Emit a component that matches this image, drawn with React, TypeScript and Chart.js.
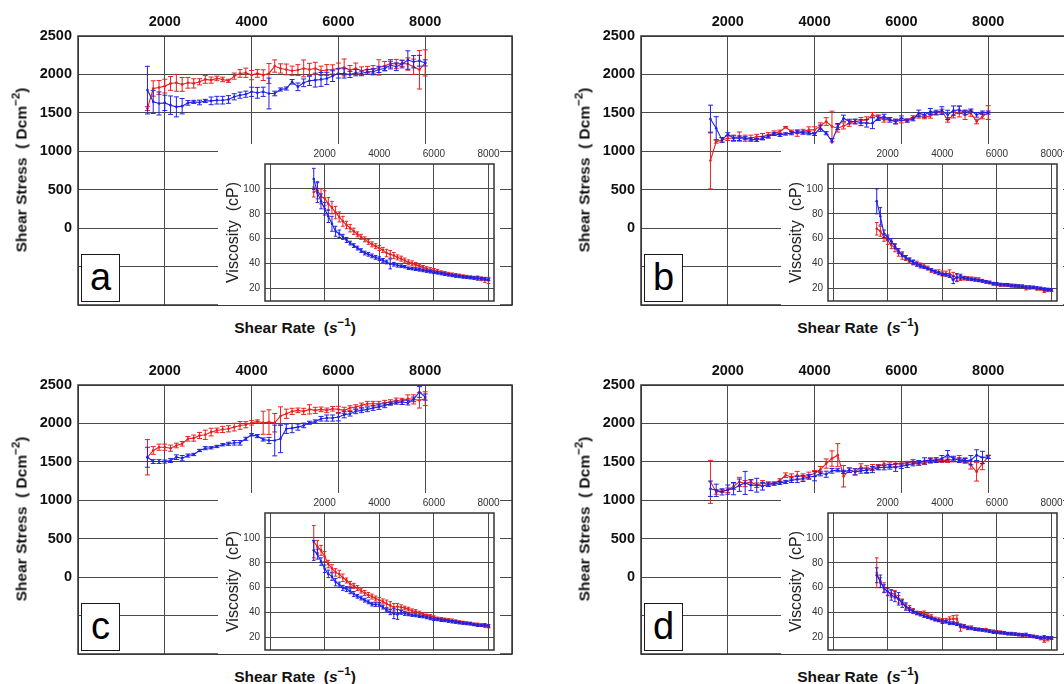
import React, { useEffect, useRef } from 'react';
import { Chart, registerables } from 'chart.js';

Chart.register(...registerables);

const FONT = '"Liberation Sans", Arial, Helvetica, sans-serif';
Chart.defaults.font.family = FONT;

const BLUE = '#2020e6';
const RED = '#ea1e1e';
const GRID = '#4a4a4a';
const FRAME = '#333333';

// shared shear-rate axis values (s^-1)
const rates = [1600, 1733, 1867, 2000, 2133, 2267, 2400, 2533, 2667, 2800, 2933, 3067, 3200, 3333, 3467, 3600, 3733, 3867, 4000, 4133, 4267, 4400, 4533, 4667, 4800, 4933, 5067, 5200, 5333, 5467, 5600, 5733, 5867, 6000, 6133, 6267, 6400, 6533, 6667, 6800, 6933, 7067, 7200, 7333, 7467, 7600, 7733, 7867, 8000];

// tick values
const mainXTicks = [0, 2000, 4000, 6000, 8000, 10000];
const mainYTicks = [-1000, -500, 0, 500, 1000, 1500, 2000, 2500];
const insetXTicks = [0, 2000, 4000, 6000, 8000];
const insetYTicks = [20, 40, 60, 80, 100];

// ---- panel a ----
const stressA_blue = [1796, 1643, 1622, 1630, 1600, 1578, 1587, 1630, 1643, 1635, 1656, 1656, 1665, 1665, 1674, 1709, 1730, 1743, 1774, 1761, 1774, 1752, 1752, 1804, 1817, 1904, 1839, 1891, 1917, 1926, 1935, 1948, 1978, 2013, 2013, 2000, 2022, 2013, 2035, 2035, 2065, 2078, 2122, 2100, 2135, 2187, 2165, 2178, 2150];
const stressA_blueErr = [310, 150, 150, 100, 120, 130, 100, 30, 20, 30, 20, 50, 50, 50, 50, 40, 40, 40, 60, 70, 60, 200, 30, 20, 20, 30, 50, 50, 60, 90, 90, 80, 70, 60, 60, 40, 40, 30, 30, 40, 40, 30, 50, 50, 50, 120, 80, 70, 40];
const stressA_red = [1556, 1817, 1830, 1848, 1883, 1891, 1870, 1891, 1883, 1904, 1935, 1926, 1948, 1935, 1917, 1978, 2013, 2022, 1991, 2013, 1991, 2013, 2109, 2078, 2065, 2048, 2057, 2078, 2065, 2078, 2048, 2057, 2065, 2078, 2091, 2057, 2078, 2048, 2065, 2065, 2091, 2109, 2144, 2135, 2144, 2135, 2100, 2060, 2150];
const stressA_redErr = [25, 100, 90, 90, 90, 110, 90, 70, 60, 40, 50, 40, 30, 30, 20, 40, 50, 60, 60, 50, 70, 130, 80, 60, 70, 60, 70, 110, 80, 80, 60, 70, 60, 70, 110, 60, 70, 50, 40, 50, 100, 60, 50, 60, 40, 80, 100, 250, 170];
const viscA_blue = [108, 97, 90, 84, 78, 72, 66, 64, 61.5, 59, 56.5, 54.5, 52.5, 50.5, 48.5, 47.5, 46.2, 45, 44, 42.6, 41.3, 39.8, 39.5, 38.7, 38, 37.5, 36.3, 36, 35.5, 35, 34.5, 34, 33.5, 33, 32.6, 32, 31.5, 31, 30.5, 30, 29.7, 29.3, 29, 28.7, 28.4, 28.4, 28, 27.7, 27.3];
const viscA_blueErr = [8.5, 8, 6, 5, 5, 6, 4, 3, 2, 2, 1.5, 1.5, 1.5, 1.5, 1.5, 1.5, 1.5, 1.5, 1.5, 1.5, 1.5, 4, 1.5, 1.5, 1, 1, 1, 1, 1, 1, 1, 1, 1, 1, 1, 1, 1, 1, 1, 1, 1, 1, 1, 1, 1, 1.5, 1, 1, 1];
const viscA_red = [97.5, 99, 94, 92.5, 88, 85, 81, 77.5, 74, 71, 68.5, 66, 63.5, 61.5, 59.5, 57.5, 55.5, 54, 52.5, 51, 48.5, 47.5, 46.5, 45, 44, 42.5, 41, 40.2, 39, 38, 37, 36, 35.3, 34.6, 33.9, 33.2, 32.6, 32, 31.5, 31, 30.6, 30, 29.6, 29.2, 28.8, 28.3, 27.8, 27, 26.5];
const viscA_redErr = [4, 7, 6, 6, 5, 5, 5, 4, 4, 3, 3, 2.5, 2, 2, 2, 2, 2, 2, 2, 2, 3, 3, 2.5, 2, 2, 2, 2, 2, 2, 1.5, 1.5, 1.5, 1.5, 1.5, 1.5, 1, 1, 1, 1, 1, 1, 1, 1, 1, 1, 1.5, 1.5, 2, 2.5];

// ---- panel b ----
const stressB_blue = [1420, 1300, 1148, 1222, 1170, 1170, 1170, 1156, 1148, 1170, 1191, 1226, 1213, 1226, 1235, 1256, 1243, 1235, 1226, 1300, 1235, 1126, 1322, 1430, 1387, 1387, 1374, 1365, 1365, 1430, 1452, 1409, 1387, 1430, 1400, 1417, 1496, 1474, 1517, 1504, 1530, 1474, 1530, 1539, 1504, 1530, 1474, 1504, 1504];
const stressB_blueErr = [180, 150, 30, 20, 30, 30, 20, 20, 20, 20, 20, 20, 20, 15, 20, 20, 20, 20, 20, 40, 20, 40, 40, 40, 30, 30, 40, 50, 70, 30, 30, 30, 30, 30, 20, 20, 40, 30, 40, 30, 50, 60, 60, 50, 30, 20, 30, 20, 20];
const stressB_red = [880, 1126, 1148, 1170, 1170, 1191, 1170, 1170, 1191, 1191, 1213, 1235, 1256, 1313, 1256, 1235, 1256, 1278, 1278, 1330, 1387, 1322, 1300, 1330, 1365, 1387, 1400, 1409, 1474, 1443, 1409, 1417, 1387, 1400, 1400, 1443, 1452, 1443, 1461, 1496, 1517, 1409, 1474, 1517, 1474, 1496, 1387, 1452, 1504];
const stressB_redErr = [370, 20, 30, 30, 40, 60, 40, 40, 30, 40, 30, 30, 20, 10, 20, 40, 30, 40, 40, 40, 50, 200, 50, 40, 40, 30, 40, 40, 30, 30, 30, 20, 30, 30, 20, 20, 20, 20, 30, 20, 30, 30, 40, 70, 60, 40, 30, 30, 90];
const viscB_blue = [90, 78, 64, 61, 58, 54, 50, 47, 45, 43, 41, 39.5, 38, 37, 36, 35, 33.5, 32.5, 31.5, 31, 30, 27, 29, 29.5, 28.5, 28, 27.5, 27, 26.5, 26, 25.5, 25, 24, 23.8, 23.3, 23, 23, 22.6, 22.4, 22, 21.8, 21.3, 21.2, 21, 20.5, 20.2, 19.6, 19.3, 19];
const viscB_blueErr = [10, 7, 3, 2, 2, 2, 2, 1.5, 1.5, 1.5, 1.5, 1.5, 1.5, 1, 1, 1, 1, 1, 1, 1, 1, 3, 3, 2, 1, 1, 1, 1, 1, 1, 1, 1, 1, 1, 1, 1, 1, 1, 1, 1, 1, 1, 1, 1, 1, 1, 1, 1, 1];
const viscB_red = [68, 66, 61, 58.5, 55, 52.5, 49, 46.5, 44.5, 42.5, 41, 40, 39, 38.5, 36.5, 34.5, 33.5, 33, 32, 32, 32, 30, 28.5, 28.5, 28.3, 28, 27.8, 27.5, 27.2, 26.4, 25.2, 24.7, 23.7, 23.3, 22.8, 23, 22.7, 22.1, 21.9, 22, 21.9, 19.9, 20.5, 20.7, 19.7, 19.7, 17.9, 18.5, 18.8];
const viscB_redErr = [5, 4, 3, 3, 3, 3, 3, 3, 2, 2, 2, 2, 1.5, 1.5, 1.5, 1.5, 1.5, 2, 2, 2, 3, 3, 3, 2, 1.5, 1.5, 1.5, 1.5, 1.5, 1, 1, 1, 1, 1, 1, 1, 1, 1, 1, 1, 1, 1, 1, 1, 1, 1, 1, 1, 1.2];

// ---- panel c ----
const stressC_blue = [1560, 1504, 1504, 1504, 1517, 1561, 1548, 1582, 1596, 1648, 1678, 1683, 1700, 1722, 1735, 1748, 1748, 1800, 1852, 1835, 1791, 1778, 1778, 1800, 1930, 1939, 1952, 1974, 2009, 2026, 2061, 2070, 2070, 2083, 2113, 2126, 2157, 2170, 2183, 2200, 2213, 2235, 2257, 2270, 2278, 2270, 2313, 2409, 2343];
const stressC_blueErr = [130, 25, 25, 20, 25, 30, 35, 20, 15, 15, 20, 15, 15, 15, 20, 30, 30, 20, 15, 20, 20, 40, 200, 180, 60, 60, 40, 30, 20, 20, 30, 40, 40, 50, 40, 30, 30, 30, 30, 30, 30, 30, 20, 20, 30, 30, 30, 70, 40];
const stressC_red = [1560, 1648, 1691, 1691, 1678, 1713, 1735, 1800, 1809, 1843, 1852, 1887, 1909, 1922, 1930, 1952, 1974, 1983, 2009, 2026, 2009, 2017, 2009, 2096, 2126, 2157, 2170, 2157, 2183, 2170, 2183, 2170, 2191, 2183, 2170, 2200, 2213, 2235, 2257, 2257, 2257, 2270, 2278, 2300, 2287, 2322, 2313, 2300, 2322];
const stressC_redErr = [230, 50, 40, 40, 40, 30, 30, 30, 40, 40, 60, 50, 30, 40, 40, 50, 50, 40, 30, 20, 150, 160, 120, 120, 60, 40, 30, 40, 60, 40, 30, 30, 30, 40, 40, 30, 30, 30, 30, 30, 30, 30, 30, 30, 40, 50, 60, 100, 90];
const viscC_blue = [90, 87, 81, 75.2, 71.1, 68.9, 64.5, 62.5, 59.9, 58.9, 57.2, 54.9, 53.1, 51.7, 50, 48.6, 46.8, 46.5, 46.3, 44.4, 42, 40.4, 39.2, 38.6, 40.2, 39.3, 38.5, 38, 37.7, 37.1, 36.8, 36.1, 35.3, 34.7, 34.5, 33.9, 33.7, 33.2, 32.7, 32.4, 31.9, 31.6, 31.3, 31, 30.5, 29.9, 29.9, 30.2, 29.3];
const viscC_blueErr = [8, 4, 3, 3, 3, 3, 3, 2, 2, 2, 2, 2, 1.5, 1.5, 1.5, 1.5, 1.5, 1.5, 1.5, 1.5, 1.5, 2, 4, 4, 1.5, 1.5, 1, 1, 1, 1, 1, 1, 1, 1, 1, 1, 1, 1, 1, 1, 1, 1, 1, 1, 1, 1, 1, 1, 1];
const viscC_red = [97, 93, 90, 85, 79, 75.5, 72.3, 71, 68, 65.8, 63.1, 61.5, 59.7, 57.7, 55.7, 54.2, 52.9, 51.3, 50.2, 49, 47.1, 45.8, 44.3, 44.9, 44.3, 43.7, 42.8, 41.5, 40.9, 39.7, 39, 37.8, 37.4, 36.4, 35.4, 35.1, 34.6, 34.2, 33.9, 33.2, 32.5, 32.1, 31.6, 31.4, 30.6, 30.6, 29.9, 29.2, 29];
const viscC_redErr = [13, 5, 4, 4, 3, 3, 3, 3, 3, 2, 2, 2, 2, 2, 2, 2, 2, 2, 2, 2, 3, 3, 3, 2.5, 2, 1.5, 1.5, 1.5, 1.5, 1.5, 1, 1, 1, 1, 1, 1, 1, 1, 1, 1, 1, 1, 1, 1, 1, 1, 1, 1.2, 1.2];

// ---- panel d ----
const stressD_blue = [1150, 1130, 1109, 1139, 1152, 1196, 1226, 1196, 1196, 1183, 1209, 1217, 1226, 1239, 1261, 1270, 1283, 1304, 1313, 1348, 1339, 1383, 1391, 1370, 1391, 1370, 1383, 1391, 1400, 1426, 1426, 1435, 1426, 1443, 1457, 1478, 1487, 1513, 1522, 1522, 1543, 1587, 1543, 1522, 1513, 1522, 1587, 1557, 1565];
const stressD_blueErr = [100, 80, 40, 60, 80, 80, 150, 70, 90, 50, 30, 20, 20, 20, 30, 40, 40, 30, 60, 30, 40, 30, 20, 20, 30, 40, 30, 30, 40, 30, 30, 30, 50, 30, 30, 30, 30, 40, 30, 30, 40, 60, 30, 30, 30, 60, 70, 80, 20];
const stressD_red = [1240, 1109, 1122, 1130, 1183, 1239, 1217, 1239, 1196, 1226, 1209, 1217, 1261, 1326, 1304, 1326, 1304, 1326, 1348, 1400, 1478, 1543, 1587, 1313, 1391, 1370, 1435, 1400, 1426, 1435, 1478, 1457, 1470, 1478, 1487, 1500, 1478, 1487, 1513, 1522, 1513, 1522, 1530, 1543, 1522, 1457, 1370, 1478, 1565];
const stressD_redErr = [280, 30, 20, 30, 40, 60, 40, 30, 30, 30, 20, 20, 20, 30, 40, 50, 40, 40, 40, 40, 60, 100, 150, 140, 30, 40, 40, 50, 40, 30, 30, 30, 30, 20, 20, 30, 20, 20, 30, 30, 20, 30, 30, 40, 30, 50, 120, 80, 20];
const viscD_blue = [70, 65.2, 59.4, 57, 54, 52.8, 51.1, 47.2, 44.9, 42.2, 41.2, 39.7, 38.3, 37.2, 36.4, 35.3, 34.4, 33.7, 32.8, 32.6, 31.4, 31.4, 30.7, 29.4, 29, 27.8, 27.3, 26.7, 26.3, 26.1, 25.5, 25, 24.3, 24.1, 23.8, 23.6, 23.2, 23.2, 22.8, 22.4, 22.3, 22.5, 21.4, 20.8, 20.3, 20, 20.5, 19.8, 19.6];
const viscD_blueErr = [6, 5, 3, 3, 4, 4, 5, 3, 3, 2, 1.5, 1, 1, 1, 1, 1, 1, 1, 1.5, 1, 1, 1, 1, 1, 1, 1, 1, 1, 1, 1, 1, 1, 1, 1, 1, 1, 1, 1, 1, 1, 1, 1, 1, 1, 1, 1, 1, 1, 1];
const viscD_red = [72, 64, 60, 56.5, 55.5, 54.7, 50.7, 48.9, 44.9, 43.8, 41.2, 39.7, 39.4, 39.8, 37.6, 36.8, 34.9, 34.3, 33.7, 33.9, 34.6, 35.1, 35, 28.1, 29, 27.8, 28.3, 26.9, 26.7, 26.2, 26.4, 25.4, 25.1, 24.6, 24.3, 23.9, 23.1, 22.8, 22.7, 22.4, 21.8, 21.5, 21.3, 21, 20.4, 19.2, 17.7, 18.8, 19.6];
const viscD_redErr = [12, 4, 4, 3, 3, 3, 3, 2, 2, 2, 2, 1.5, 1.5, 1.5, 1.5, 1.5, 1.5, 1.5, 1.5, 1.5, 2, 2.5, 3, 3, 1.5, 1.5, 1, 1, 1, 1, 1, 1, 1, 1, 1, 1, 1, 1, 1, 1, 1, 1, 1, 1, 1, 1, 1.5, 1.5, 1];

type PanelSpec = {
  letter: string;
  ox: number;
  oy: number;
  stressBlue: number[]; stressBlueErr: number[];
  stressRed: number[]; stressRedErr: number[];
  viscBlue: number[]; viscBlueErr: number[];
  viscRed: number[]; viscRedErr: number[];
};

const panels: PanelSpec[] = [
  { letter: 'a', ox: 0, oy: 0, stressBlue: stressA_blue, stressBlueErr: stressA_blueErr, stressRed: stressA_red, stressRedErr: stressA_redErr, viscBlue: viscA_blue, viscBlueErr: viscA_blueErr, viscRed: viscA_red, viscRedErr: viscA_redErr },
  { letter: 'b', ox: 563, oy: 0, stressBlue: stressB_blue, stressBlueErr: stressB_blueErr, stressRed: stressB_red, stressRedErr: stressB_redErr, viscBlue: viscB_blue, viscBlueErr: viscB_blueErr, viscRed: viscB_red, viscRedErr: viscB_redErr },
  { letter: 'c', ox: 0, oy: 349, stressBlue: stressC_blue, stressBlueErr: stressC_blueErr, stressRed: stressC_red, stressRedErr: stressC_redErr, viscBlue: viscC_blue, viscBlueErr: viscC_blueErr, viscRed: viscC_red, viscRedErr: viscC_redErr },
  { letter: 'd', ox: 563, oy: 349, stressBlue: stressD_blue, stressBlueErr: stressD_blueErr, stressRed: stressD_red, stressRedErr: stressD_redErr, viscBlue: viscD_blue, viscBlueErr: viscD_blueErr, viscRed: viscD_red, viscRedErr: viscD_redErr },
];

const errorBarPlugin = {
  id: 'errorBars',
  afterDatasetDraw(chart: any, args: any) {
    const ds: any = chart.data.datasets[args.index];
    const errs: number[] | undefined = ds.errors;
    if (!errs) return;
    const meta = args.meta;
    const xs = chart.scales[meta.xAxisID];
    const ys = chart.scales[meta.yAxisID];
    const a = chart.chartArea;
    const ctx = chart.ctx;
    const cap = ds.capHalf ?? 2;
    ctx.save();
    ctx.beginPath();
    ctx.rect(a.left, a.top, a.right - a.left, a.bottom - a.top);
    ctx.clip();
    ctx.strokeStyle = ds.borderColor;
    ctx.lineWidth = 1;
    ctx.beginPath();
    ds.data.forEach((p: any, i: number) => {
      const x = xs.getPixelForValue(p.x);
      const y1 = ys.getPixelForValue(p.y + errs[i]);
      const y2 = ys.getPixelForValue(p.y - errs[i]);
      ctx.moveTo(x, y1); ctx.lineTo(x, y2);
      ctx.moveTo(x - cap, y1); ctx.lineTo(x + cap, y1);
      ctx.moveTo(x - cap, y2); ctx.lineTo(x + cap, y2);
    });
    ctx.stroke();
    ctx.restore();
  },
};

const framePlugin = {
  id: 'frame',
  afterDraw(chart: any) {
    const a = chart.chartArea;
    const ctx = chart.ctx;
    ctx.save();
    ctx.strokeStyle = FRAME;
    ctx.lineWidth = 1.5;
    ctx.strokeRect(a.left, a.top, a.right - a.left, a.bottom - a.top);
    ctx.restore();
  },
};

const fix = (dim: 'width' | 'height', size: number) => (s: any) => {
  s[dim] = size;
  s.paddingTop = 0; s.paddingBottom = 0; s.paddingLeft = 0; s.paddingRight = 0;
};
const setTicks = (vals: number[]) => (s: any) => { s.ticks = vals.map((v) => ({ value: v })); };

const series = (values: number[], errors: number[], color: string, cap: number, label: string) => ({
  label,
  data: rates.map((x, i) => ({ x, y: values[i] })),
  errors,
  capHalf: cap,
  borderColor: color,
  backgroundColor: color,
  borderWidth: 1.1,
  pointRadius: 1.3,
  pointBorderWidth: 0,
  tension: 0,
});

function mainConfig(p: PanelSpec): any {
  return {
    type: 'line',
    data: {
      datasets: [
        series(p.stressBlue, p.stressBlueErr, BLUE, 2.5, 'blue'),
        series(p.stressRed, p.stressRedErr, RED, 2.5, 'red'),
      ],
    },
    options: {
      responsive: false,
      animation: false,
      events: [],
      layout: { padding: { left: 0, top: 0, right: 3, bottom: 3 } },
      plugins: { legend: { display: false }, tooltip: { enabled: false } },
      scales: {
        x: {
          type: 'linear', position: 'top', min: 0, max: 10000,
          afterBuildTicks: setTicks(mainXTicks),
          afterFit: fix('height', 36),
          grid: { color: GRID, lineWidth: 1, drawTicks: false },
          border: { display: false },
          ticks: {
            autoSkip: false, maxRotation: 0, padding: 5, color: '#111',
            font: { family: FONT, size: 14.5, weight: 'bold' },
            callback: (v: number) => (v > 0 && v < 10000 ? String(v) : ''),
          },
        },
        y: {
          type: 'linear', position: 'left', min: -1000, max: 2500,
          afterBuildTicks: setTicks(mainYTicks),
          afterFit: fix('width', 78),
          grid: { color: GRID, lineWidth: 1, drawTicks: false },
          border: { display: false },
          ticks: {
            autoSkip: false, padding: 6, color: '#111',
            font: { family: FONT, size: 14.5, weight: 'bold' },
            callback: (v: number) => (v >= 0 ? String(v) : ''),
          },
        },
      },
    },
    plugins: [errorBarPlugin, framePlugin],
  };
}

function insetConfig(p: PanelSpec): any {
  return {
    type: 'line',
    data: {
      datasets: [
        series(p.viscBlue, p.viscBlueErr, BLUE, 1.8, 'blue'),
        series(p.viscRed, p.viscRedErr, RED, 1.8, 'red'),
      ],
    },
    options: {
      responsive: false,
      animation: false,
      events: [],
      layout: { padding: { left: 0, top: 0, right: 6, bottom: 0 } },
      plugins: { legend: { display: false }, tooltip: { enabled: false } },
      scales: {
        x: {
          type: 'linear', position: 'top', min: -185, max: 8200,
          afterBuildTicks: setTicks(insetXTicks),
          afterFit: fix('height', 20),
          grid: { color: GRID, lineWidth: 1, drawTicks: false },
          border: { display: false },
          ticks: {
            autoSkip: false, maxRotation: 0, padding: 4, color: '#333',
            font: { family: FONT, size: 10 },
            callback: (v: number) => (v > 0 ? String(v) : ''),
          },
        },
        y: {
          type: 'linear', position: 'left', min: 10, max: 120,
          afterBuildTicks: setTicks(insetYTicks),
          afterFit: fix('width', 47),
          grid: { color: GRID, lineWidth: 1, drawTicks: false },
          border: { display: false },
          title: {
            display: true, text: 'Viscosity  (cP)', color: '#222',
            font: { family: FONT, size: 16 }, padding: { top: 6, bottom: 0 },
          },
          ticks: {
            autoSkip: false, padding: 5, color: '#333',
            font: { family: FONT, size: 10 },
            callback: (v: number) => String(v),
          },
        },
      },
    },
    plugins: [errorBarPlugin, framePlugin],
  };
}

function Panel({ p }: { p: PanelSpec }) {
  const mainRef = useRef<HTMLCanvasElement>(null);
  const insetRef = useRef<HTMLCanvasElement>(null);
  useEffect(() => {
    const main = new Chart(mainRef.current as HTMLCanvasElement, mainConfig(p));
    const inset = new Chart(insetRef.current as HTMLCanvasElement, insetConfig(p));
    return () => { main.destroy(); inset.destroy(); };
  }, [p]);
  const { ox, oy } = p;
  const titleFont: React.CSSProperties = {
    position: 'absolute', fontFamily: FONT, fontWeight: 'bold', fontSize: 15.5,
    color: '#111', whiteSpace: 'nowrap', lineHeight: '18px',
  };
  const supStyle: React.CSSProperties = { fontSize: 11.5, position: 'relative', top: -7, verticalAlign: 'baseline' };
  return (
    <>
      <canvas ref={mainRef} width={516} height={309}
        style={{ position: 'absolute', left: ox, top: oy, width: 516, height: 309 }} />
      <div style={{ ...titleFont, left: ox + 22, top: oy + 170, transform: 'translate(-50%, -50%) rotate(-90deg)' }}>
        Shear Stress&nbsp;&nbsp;( Dcm<span style={supStyle}>−2</span>)
      </div>
      <div style={{ ...titleFont, left: ox + 295, top: oy + 328, transform: 'translate(-50%, -50%)' }}>
        Shear Rate&nbsp;&nbsp;(<i>s</i><span style={supStyle}>−1</span>)
      </div>
      <canvas ref={insetRef} width={282} height={161}
        style={{ position: 'absolute', left: ox + 218, top: oy + 144, width: 282, height: 161, background: '#fff' }} />
      <div style={{
        position: 'absolute', left: ox + 81, top: oy + 254, width: 39, height: 48, boxSizing: 'border-box',
        border: '1.5px solid #1a1a1a', background: '#fff', fontFamily: FONT, fontSize: 38, lineHeight: '45px',
        textAlign: 'center', color: '#000',
      }}>{p.letter}</div>
    </>
  );
}

export default function App() {
  return (
    <div style={{ position: 'absolute', left: 0, top: 0, width: 1064, height: 684, overflow: 'hidden', background: '#fff' }}>
      {panels.map((p) => <Panel key={p.letter} p={p} />)}
    </div>
  );
}
